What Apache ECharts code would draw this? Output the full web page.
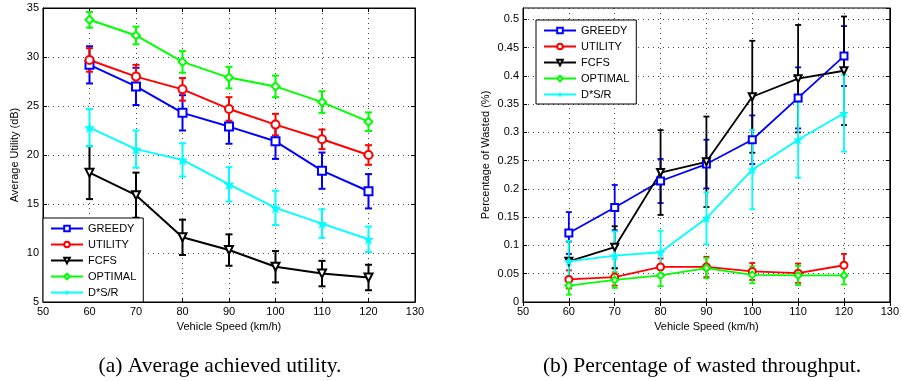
<!DOCTYPE html>
<html>
<head>
<meta charset="utf-8">
<script src="https://cdn.jsdelivr.net/npm/echarts@6/dist/echarts.min.js"></script>
<style>
  html, body { margin: 0; padding: 0; background: #fff; }
  #chart { width: 902px; height: 381px; }
</style>
</head>
<body>
<div id="chart"></div>
<script>
// x values shared by both panels
const speeds = [60, 70, 80, 90, 100, 110, 120];
const methods = ["GREEDY", "UTILITY", "FCFS", "OPTIMAL", "D*S/R"];

// (a) average utility (dB), mean and half-width of the error bar
const greedyUtil = [29.2, 27.0, 24.3, 22.9, 21.4, 18.4, 16.3];
const greedyUtilErr = [1.9, 1.9, 1.8, 1.75, 1.8, 1.85, 1.75];
const utilityUtil = [29.7, 28.0, 26.7, 24.7, 23.1, 21.6, 20.0];
const utilityUtilErr = [1.2, 1.2, 1.15, 1.2, 1.1, 1.0, 1.0];
const fcfsUtil = [18.2, 15.9, 11.6, 10.3, 8.6, 7.9, 7.5];
const fcfsUtilErr = [2.7, 2.3, 1.8, 1.6, 1.6, 1.3, 1.3];
const optimalUtil = [33.8, 32.2, 29.5, 27.9, 27.0, 25.4, 23.4];
const optimalUtilErr = [0.8, 0.9, 1.1, 1.1, 1.1, 1.1, 0.95];
const dsrUtil = [22.8, 20.6, 19.5, 17.0, 14.6, 13.0, 11.4];
const dsrUtilErr = [1.9, 1.9, 1.7, 1.75, 1.75, 1.45, 1.3];

// (b) percentage of wasted throughput
const greedyWaste = [0.122, 0.167, 0.214, 0.244, 0.287, 0.361, 0.435];
const greedyWasteErr = [0.037, 0.04, 0.039, 0.043, 0.043, 0.054, 0.053];
const utilityWaste = [0.040, 0.044, 0.062, 0.062, 0.054, 0.051, 0.065];
const utilityWasteErr = [0.016, 0.015, 0.015, 0.018, 0.015, 0.017, 0.02];
const fcfsWaste = [0.072, 0.097, 0.229, 0.248, 0.363, 0.395, 0.409];
const fcfsWasteErr = [0.035, 0.037, 0.075, 0.08, 0.099, 0.095, 0.096];
const optimalWaste = [0.029, 0.039, 0.047, 0.060, 0.048, 0.047, 0.047];
const optimalWasteErr = [0.016, 0.014, 0.019, 0.018, 0.015, 0.017, 0.016];
const dsrWaste = [0.072, 0.082, 0.088, 0.148, 0.234, 0.287, 0.334];
const dsrWasteErr = [0.036, 0.043, 0.038, 0.046, 0.07, 0.067, 0.068];

const captions = ["(a) Average achieved utility.", "(b) Percentage of wasted throughput."];

const FONT = "Liberation Sans";
const colors = ["#0000ff", "#ff0000", "#000000", "#00ff00", "#00ffff"];
const symbols = [
    "emptyRect",
    "emptyCircle",
    "emptyTriangle",
    "emptyDiamond",
    "path://M0,-10L2.35,-3.24L9.51,-3.09L3.8,1.24L5.88,8.09L0,4L-5.88,8.09L-3.8,1.24L-9.51,-3.09L-2.35,-3.24Z",
];
const rotations = [0, 0, 180, 0, 0];

const chart = echarts.init(document.getElementById("chart"));

const fmtNum = (v) => String(+v.toFixed(2));

const xAxes = (gridIndex) => [
    {
        gridIndex,
        type: "value",
        min: 50,
        max: 130,
        interval: 10,
        name: "Vehicle Speed (km/h)",
        nameLocation: "middle",
        nameGap: 17,
        nameTextStyle: { fontFamily: FONT, fontSize: 11, color: "#000" },
        axisLine: { show: true, lineStyle: { color: "#000" } },
        axisTick: { inside: true, length: 4, lineStyle: { color: "#000" } },
        axisLabel: { fontFamily: FONT, fontSize: 11, color: "#000", margin: 4 },
        splitLine: { show: true, lineStyle: { color: "#444", type: [1, 4], width: 1 } },
    },
    {
        gridIndex,
        type: "value",
        position: "top",
        min: 50,
        max: 130,
        interval: 10,
        axisLine: { show: true, lineStyle: { color: "#000" } },
        axisTick: { inside: true, length: 4, lineStyle: { color: "#000" } },
        axisLabel: { show: false },
        splitLine: { show: false },
    },
];

const yAxes = (gridIndex, min, max, interval, name, nameGap) => [
    {
        gridIndex,
        type: "value",
        min,
        max,
        interval,
        name,
        nameLocation: "middle",
        nameGap,
        nameTextStyle: { fontFamily: FONT, fontSize: 11, color: "#000" },
        axisLine: { show: true, lineStyle: { color: "#000" } },
        axisTick: { inside: true, length: 4, lineStyle: { color: "#000" } },
        axisLabel: {
            fontFamily: FONT,
            fontSize: 11,
            color: "#000",
            margin: 4,
            showMaxLabel: max % interval < 1e-9 || Math.abs((max % interval) - interval) < 1e-9,
            formatter: fmtNum,
        },
        splitLine: { show: true, lineStyle: { color: "#444", type: [1, 4], width: 1 } },
    },
    {
        gridIndex,
        type: "value",
        position: "right",
        min,
        max,
        interval,
        axisLine: { show: true, lineStyle: { color: "#000" } },
        axisTick: { inside: true, length: 4, lineStyle: { color: "#000" } },
        axisLabel: { show: false },
        splitLine: { show: false },
    },
];

const errorSeries = (name, means, errs, color, axisIndex, width, cap) => ({
    name: name + " err",
    type: "custom",
    xAxisIndex: axisIndex,
    yAxisIndex: axisIndex,
    silent: true,
    data: speeds.map((s, i) => [s, means[i] - errs[i], means[i] + errs[i]]),
    encode: { x: 0, y: [1, 2] },
    renderItem: (params, api) => {
        const lo = api.coord([api.value(0), api.value(1)]);
        const hi = api.coord([api.value(0), api.value(2)]);
        const style = { stroke: color, lineWidth: width };
        return {
            type: "group",
            children: [
                { type: "line", shape: { x1: lo[0], y1: lo[1], x2: hi[0], y2: hi[1] }, style },
                { type: "line", shape: { x1: lo[0] - cap, y1: lo[1], x2: lo[0] + cap, y2: lo[1] }, style },
                { type: "line", shape: { x1: hi[0] - cap, y1: hi[1], x2: hi[0] + cap, y2: hi[1] }, style },
            ],
        };
    },
});

const lineSeries = (k, means, axisIndex, width, size) => ({
    name: methods[k],
    type: "line",
    xAxisIndex: axisIndex,
    yAxisIndex: axisIndex,
    data: speeds.map((s, i) => [s, means[i]]),
    symbol: symbols[k],
    symbolRotate: rotations[k],
    symbolSize: k === 4 ? size + 3 : size,
    showAllSymbol: true,
    lineStyle: { color: colors[k], width },
    itemStyle: { color: colors[k], borderWidth: 1.5 },
    emphasis: { disabled: true },
});

const utilSets = [
    [greedyUtil, greedyUtilErr],
    [utilityUtil, utilityUtilErr],
    [fcfsUtil, fcfsUtilErr],
    [optimalUtil, optimalUtilErr],
    [dsrUtil, dsrUtilErr],
];
const wasteSets = [
    [greedyWaste, greedyWasteErr],
    [utilityWaste, utilityWasteErr],
    [fcfsWaste, fcfsWasteErr],
    [optimalWaste, optimalWasteErr],
    [dsrWaste, dsrWasteErr],
];

const series = [];
utilSets.forEach(([m, e], k) => {
    series.push(errorSeries(methods[k], m, e, colors[k], 0, 2, 3.5));
    series.push(lineSeries(k, m, 0, 2, 8));
});
wasteSets.forEach(([m, e], k) => {
    series.push(errorSeries(methods[k], m, e, colors[k], 2, 1.8, 3));
    series.push(lineSeries(k, m, 2, 1.8, 7));
});

const legendBox = (left, top) => ({
    data: methods,
    orient: "vertical",
    left,
    top,
    itemWidth: 32,
    itemHeight: 7,
    itemGap: 5,
    padding: [5, 7, 4, 7],
    backgroundColor: "#fff",
    borderColor: "#000",
    borderWidth: 1,
    borderRadius: 0,
    selectedMode: false,
    textStyle: { fontFamily: FONT, fontSize: 11, color: "#000", lineHeight: 11 },
});

const option = {
    animation: false,
    backgroundColor: "#fff",
    grid: [
        { left: 43, right: 487, top: 8, bottom: 79, show: true, borderColor: "#000", borderWidth: 1 },
        { left: 523, right: 6, top: 8, bottom: 79, show: true, borderColor: "#000", borderWidth: 1 },
    ],
    xAxis: [...xAxes(0), ...xAxes(1)],
    yAxis: [
        ...yAxes(0, 5, 35, 5, "Average Utility (dB)", 23),
        ...yAxes(1, 0, 0.52, 0.05, "Percentage of Wasted (%)", 32),
    ],
    legend: [legendBox(43, 218), legendBox(536, 20)],
    series,
    graphic: [
        {
            type: "text",
            x: 220,
            y: 366,
            style: {
                text: captions[0],
                font: "21.5px 'Liberation Serif'",
                fill: "#000",
                textAlign: "center",
                textVerticalAlign: "middle",
            },
        },
        {
            type: "text",
            x: 702,
            y: 366,
            style: {
                text: captions[1],
                font: "21.5px 'Liberation Serif'",
                fill: "#000",
                textAlign: "center",
                textVerticalAlign: "middle",
            },
        },
    ],
};

chart.setOption(option);
</script>
</body>
</html>
